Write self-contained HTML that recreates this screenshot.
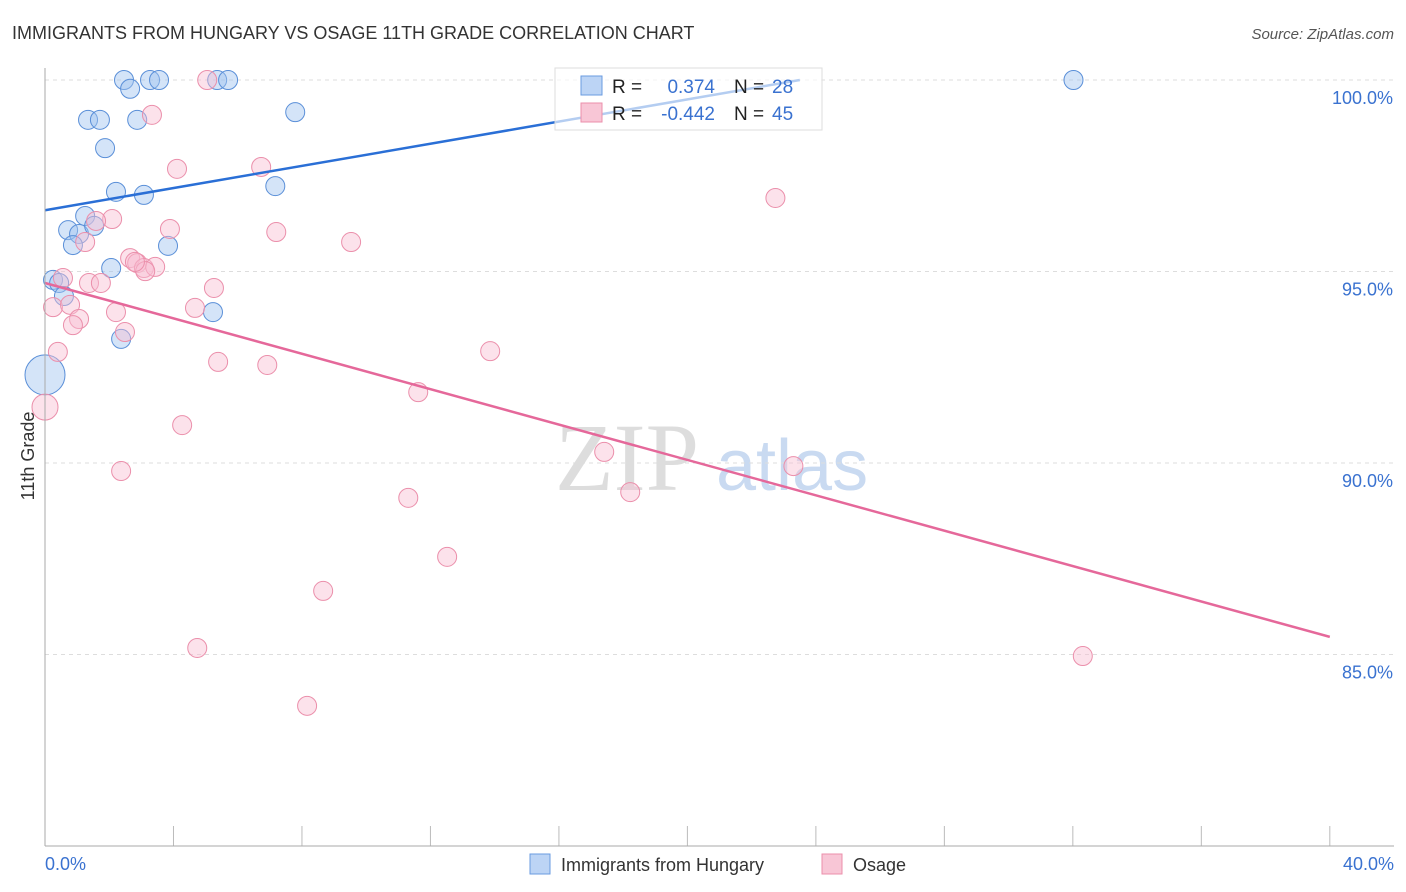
<!DOCTYPE html>
<html><head><meta charset="utf-8"><style>
body{margin:0;background:#fff;font-family:"Liberation Sans",sans-serif;}
svg{display:block}
</style></head><body>
<svg width="1406" height="892" id="chart">
<text x="12" y="39" font-size="18" fill="#333">IMMIGRANTS FROM HUNGARY VS OSAGE 11TH GRADE CORRELATION CHART</text>
<text x="1394" y="39" font-size="15" fill="#555" text-anchor="end" font-style="italic">Source: ZipAtlas.com</text>
<text x="34" y="456" font-size="18" fill="#333" transform="rotate(-90 34 456)" text-anchor="middle">11th Grade</text>
<text x="555" y="490" font-size="96" fill="#ddd" font-family="Liberation Serif,serif">ZIP</text>
<text x="716" y="490" font-size="72" fill="#c9daf1">atlas</text>
<g id="grid"></g><g id="pts"></g><g id="lines"></g>
<line x1="45" y1="68" x2="45" y2="846" stroke="#aaa"/>
<line x1="45" y1="846" x2="1394" y2="846" stroke="#aaa"/>
<text x="45" y="870" font-size="18" fill="#3a72d0">0.0%</text>
<text x="1394" y="870" font-size="18" fill="#3a72d0" text-anchor="end">40.0%</text>
<g>
<rect x="555" y="68" width="267" height="62" fill="#fff" fill-opacity="0.65" stroke="#ddd"/>
<rect x="581" y="76" width="21" height="19" fill="#bcd4f5" stroke="#6a9be0"/>
<rect x="581" y="103" width="21" height="19" fill="#f8c6d6" stroke="#eb8fab"/>
<text x="612" y="93" font-size="19" fill="#222">R =</text><text x="715" y="93" font-size="19" fill="#3a72d0" text-anchor="end">0.374</text>
<text x="734" y="93" font-size="19" fill="#222">N =</text><text x="772" y="93" font-size="19" fill="#3a72d0">28</text>
<text x="612" y="120" font-size="19" fill="#222">R =</text><text x="715" y="120" font-size="19" fill="#3a72d0" text-anchor="end">-0.442</text>
<text x="734" y="120" font-size="19" fill="#222">N =</text><text x="772" y="120" font-size="19" fill="#3a72d0">45</text>
</g>
<g><rect x="530" y="854" width="20" height="20" fill="#bcd4f5" stroke="#6a9be0"/><text x="561" y="871" font-size="18" fill="#333">Immigrants from Hungary</text></g>
<g><rect x="822" y="854" width="20" height="20" fill="#f8c6d6" stroke="#eb8fab"/><text x="853" y="871" font-size="18" fill="#333">Osage</text></g>
</svg>
<script>
const yTicks=[100,95,90,85];
const blueX=[2.46,2.65,3.27,3.55,5.36,5.70,32.02,1.34,1.71,2.87,7.79,1.87,2.21,3.08,7.17,1.25,0.72,1.06,1.53,0.87,3.83,2.06,0.25,0.44,0.59,5.23,2.37,0];
const blueY=[100,99.77,100,100,100,100,100,98.96,98.96,98.96,99.16,98.22,97.08,97.0,97.23,96.45,96.08,95.98,96.19,95.69,95.67,95.09,94.78,94.70,94.36,93.94,93.24,92.30];
const blueR=[9.5,9.5,9.5,9.5,9.5,9.5,9.5,9.5,9.5,9.5,9.5,9.5,9.5,9.5,9.5,9.5,9.5,9.5,9.5,9.5,9.5,9.5,9.5,9.5,9.5,9.5,9.5,20];
const pinkX=[5.05,3.33,4.11,6.73,22.74,2.09,1.59,3.89,7.20,1.25,9.53,2.65,2.87,3.08,3.43,3.12,0.56,1.37,1.74,5.26,0.25,0.78,4.67,2.21,1.06,0.87,2.49,0.40,13.86,5.39,6.92,11.62,0,4.27,17.41,2.37,23.30,11.31,18.22,12.52,8.66,4.74,32.31,8.16,2.80];
const pinkY=[100,99.09,97.68,97.73,96.92,96.37,96.32,96.11,96.03,95.77,95.77,95.35,95.22,95.09,95.12,95.01,94.83,94.70,94.70,94.57,94.07,94.13,94.05,93.94,93.76,93.60,93.42,92.90,92.92,92.64,92.56,91.85,91.46,90.99,90.29,89.79,89.92,89.09,89.24,87.55,86.66,85.17,84.96,83.66,95.25];
const blueTrend=[[0,96.6],[23.5,100.0]];
const pinkTrend=[[0,94.70],[40,85.46]];
const X=v=>45+v*32.12, Y=v=>80+(100-v)*38.3;
const NS='http://www.w3.org/2000/svg';
function mk(t,a,p){const e=document.createElementNS(NS,t);for(const k in a)e.setAttribute(k,a[k]);p.appendChild(e);return e;}
const grid=document.getElementById('grid');
yTicks.forEach(t=>{
 const l=mk('line',{x1:45,x2:1394,y1:Y(t),y2:Y(t),stroke:'#ddd','stroke-dasharray':'4,4'},grid);
 
 
 const tx=mk('text',{x:1393,y:Y(t)+24,'font-size':18,fill:'#3a72d0','text-anchor':'end'},grid);
 tx.textContent=t.toFixed(1)+'%';
 
 
});
for(let i=1;i<=10;i++){const l=mk('line',{x1:X(i*4)-0,x2:X(i*4),y1:826,y2:846,stroke:'#bbb'},grid);
 
 }
const pts=document.getElementById('pts');
blueX.forEach((x,i)=>{const c=mk('circle',{cx:X(x),cy:Y(blueY[i]),r:blueR[i],fill:'rgba(160,195,240,0.45)',stroke:'#5a8fd8','stroke-width':1},pts);
 
 });
pinkX.forEach((x,i)=>{const c=mk('circle',{cx:X(x),cy:Y(pinkY[i]),r:(x===0?13:9.5),fill:'rgba(248,190,210,0.45)',stroke:'#eb8fab','stroke-width':1},pts);
 
 });
const lines=document.getElementById('lines');
const bl=mk('line',{x1:X(blueTrend[0][0]),y1:Y(blueTrend[0][1]),x2:X(blueTrend[1][0]),y2:Y(blueTrend[1][1]),stroke:'#2a6fd6','stroke-width':2.5},lines);


const pl=mk('line',{x1:X(pinkTrend[0][0]),y1:Y(pinkTrend[0][1]),x2:X(pinkTrend[1][0]),y2:Y(pinkTrend[1][1]),stroke:'#e5689a','stroke-width':2.5},lines);


</script>
</body></html>
